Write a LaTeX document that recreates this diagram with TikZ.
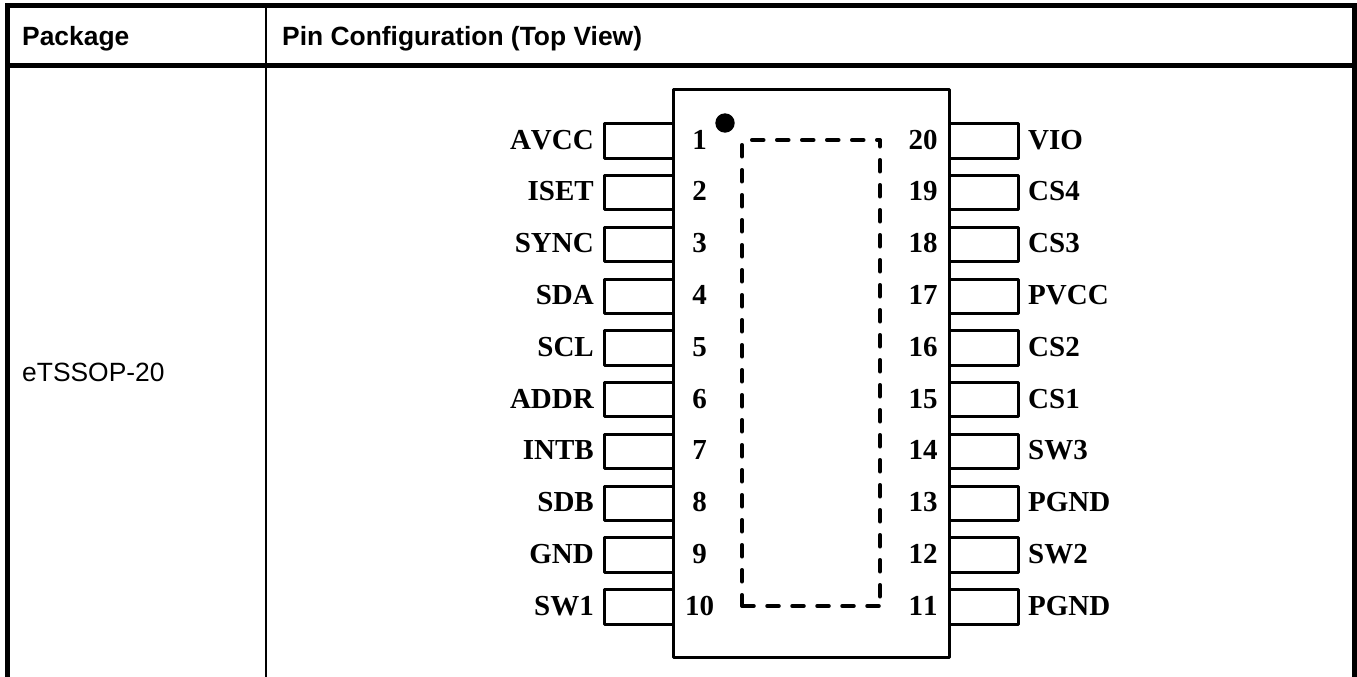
\documentclass[tikz,border=0pt]{standalone}
\usepackage{fontspec}
\setmainfont[Kerning=Off]{Liberation Serif}
\newfontfamily\hdfont{Liberation Sans}
\tikzset{
  thickrule/.style={line width=5pt,line cap=butt},
  thinrule/.style={line width=2pt,line cap=butt},
  pinbox/.style={line width=3pt,line join=round},
  padline/.style={line width=3.5pt,line cap=round,dash pattern=on 12pt off 13pt},
  pinlabel/.style={font=\fontsize{29}{31}\selectfont\bfseries,inner sep=0pt,anchor=base},
  hdr/.style={font=\hdfont\fontsize{26.4}{28}\selectfont\bfseries,inner sep=0pt,anchor=base west},
  cell/.style={font=\hdfont\fontsize{26.4}{28}\selectfont,inner sep=0pt,anchor=base west}
}
\begin{document}
\begin{tikzpicture}[x=1pt,y=-1pt]
\useasboundingbox (0,0) rectangle (1357,677);
% table
\draw[thinrule] (266,6) -- (266,677);
\draw[thickrule] (7.5,677) -- (7.5,5.5) -- (1354.5,5.5) -- (1354.5,677);
\draw[thickrule] (5,66) -- (1357,66);
\node[hdr] (hpkg) at (22,45.5) {Package};
\node[hdr] (hpin) at (282,45.5) {Pin Configuration (Top View)};
\node[cell] (cpkg) at (22,381.5) {eTSSOP-20};
% pins
\foreach \n/\lab [count=\i from 0] in {1/AVCC,2/ISET,3/SYNC,4/SDA,5/SCL,6/ADDR,7/INTB,8/SDB,9/GND,10/SW1}{
  \pgfmathsetmacro\yt{123.7+51.77*\i}
  \pgfmathsetmacro\yb{\yt+34.4}
  \pgfmathsetmacro\yl{\yt+25.5}
  \draw[pinbox] (673.5,\yt) -- (604.7,\yt) -- (604.7,\yb) -- (673.5,\yb);
  \node[pinlabel,anchor=base east] (l\n) at (594,\yl) {\lab};
  \node[pinlabel] (ln\n) at (699.5,\yl) {\n};
}
\foreach \n/\lab [count=\i from 0] in {20/VIO,19/CS4,18/CS3,17/PVCC,16/CS2,15/CS1,14/SW3,13/PGND,12/SW2,11/PGND}{
  \pgfmathsetmacro\yt{123.7+51.77*\i}
  \pgfmathsetmacro\yb{\yt+34.4}
  \pgfmathsetmacro\yl{\yt+25.5}
  \draw[pinbox] (949.5,\yt) -- (1018.7,\yt) -- (1018.7,\yb) -- (949.5,\yb);
  \node[pinlabel,anchor=base west] (r\n) at (1028,\yl) {\lab};
  \node[pinlabel] (rn\n) at (923,\yl) {\n};
}
% body
\draw[pinbox] (673.5,89) rectangle (949.5,657);
\fill (725,123) circle (9.7);
% exposed pad outline, one dashed run per side
\draw[padline] (742,144.75) -- (742,606);
\draw[padline] (742,606) -- (880,606);
\draw[padline] (751.75,140) -- (880,140);
\draw[padline,dash phase=5.25pt] (880,140) -- (880,600);
\end{tikzpicture}
\end{document}
